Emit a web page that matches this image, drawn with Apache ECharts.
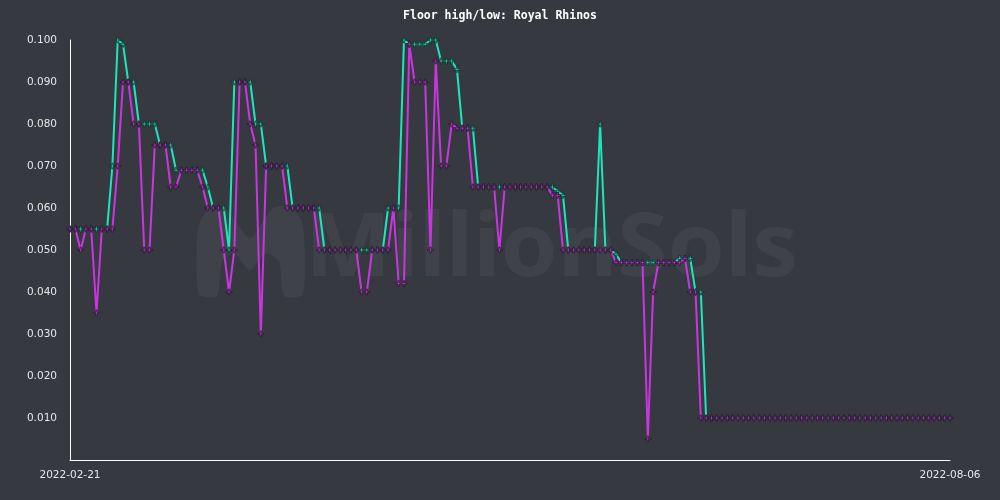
<!DOCTYPE html>
<html>
<head>
<meta charset="utf-8">
<script src="https://cdn.jsdelivr.net/npm/echarts@6/dist/echarts.min.js"></script>
<style>
html,body{margin:0;padding:0;background:#363a40;}
#c{width:1000px;height:500px;}
</style>
</head>
<body>
<div id="c"></div>
<script>
const startDate = '2022-02-21';
const dayCount = 167;
const titleText = 'Floor high/low: Royal Rhinos';
const highValues = [
0.055,0.055,0.055,0.055,0.055,0.055,0.055,0.055,0.070,0.100,
0.099,0.090,0.090,0.080,0.080,0.080,0.080,0.075,0.075,0.075,
0.069,0.069,0.069,0.069,0.069,0.069,0.065,0.060,0.060,0.060,
0.050,0.090,0.090,0.090,0.090,0.080,0.080,0.070,0.070,0.070,
0.070,0.070,0.060,0.060,0.060,0.060,0.060,0.060,0.050,0.050,
0.050,0.050,0.050,0.050,0.050,0.050,0.050,0.050,0.050,0.050,
0.060,0.060,0.060,0.100,0.099,0.099,0.099,0.099,0.100,0.100,
0.095,0.095,0.095,0.093,0.079,0.079,0.079,0.065,0.065,0.065,
0.065,0.065,0.065,0.065,0.065,0.065,0.065,0.065,0.065,0.065,
0.065,0.065,0.064,0.063,0.050,0.050,0.050,0.050,0.050,0.050,
0.080,0.050,0.050,0.049,0.047,0.047,0.047,0.047,0.047,0.047,
0.047,0.047,0.047,0.047,0.047,0.048,0.048,0.048,0.040,0.040,
0.010,0.010,0.010,0.010,0.010,0.010,0.010,0.010,0.010,0.010,
0.010,0.010,0.010,0.010,0.010,0.010,0.010,0.010,0.010,0.010,
0.010,0.010,0.010,0.010,0.010,0.010,0.010,0.010,0.010,0.010,
0.010,0.010,0.010,0.010,0.010,0.010,0.010,0.010,0.010,0.010,
0.010,0.010,0.010,0.010,0.010,0.010,0.010
];
const lowValues = [
0.055,0.055,0.050,0.055,0.055,0.035,0.055,0.055,0.055,0.070,
0.090,0.090,0.080,0.080,0.050,0.050,0.075,0.075,0.075,0.065,
0.065,0.069,0.069,0.069,0.069,0.065,0.060,0.060,0.060,0.050,
0.040,0.050,0.090,0.090,0.080,0.075,0.030,0.070,0.070,0.070,
0.070,0.060,0.060,0.060,0.060,0.060,0.060,0.050,0.050,0.050,
0.050,0.050,0.050,0.050,0.050,0.040,0.040,0.050,0.050,0.050,
0.050,0.060,0.042,0.042,0.099,0.090,0.090,0.090,0.050,0.095,
0.070,0.070,0.080,0.079,0.079,0.079,0.065,0.065,0.065,0.065,
0.065,0.050,0.065,0.065,0.065,0.065,0.065,0.065,0.065,0.065,
0.065,0.063,0.063,0.050,0.050,0.050,0.050,0.050,0.050,0.050,
0.050,0.050,0.050,0.047,0.047,0.047,0.047,0.047,0.047,0.005,
0.040,0.047,0.047,0.047,0.047,0.047,0.048,0.040,0.040,0.010,
0.010,0.010,0.010,0.010,0.010,0.010,0.010,0.010,0.010,0.010,
0.010,0.010,0.010,0.010,0.010,0.010,0.010,0.010,0.010,0.010,
0.010,0.010,0.010,0.010,0.010,0.010,0.010,0.010,0.010,0.010,
0.010,0.010,0.010,0.010,0.010,0.010,0.010,0.010,0.010,0.010,
0.010,0.010,0.010,0.010,0.010,0.010,0.010
];
const yTicks = [0, 0.01, 0.02, 0.03, 0.04, 0.05, 0.06, 0.07, 0.08, 0.09, 0.1];

function pad(n){return n<10?'0'+n:''+n;}
const dates = [];
(function(){
  const d0 = new Date(startDate + 'T00:00:00Z');
  for (let i = 0; i < dayCount; i++) {
    const d = new Date(d0.getTime() + i*86400000);
    dates.push(d.getUTCFullYear()+'-'+pad(d.getUTCMonth()+1)+'-'+pad(d.getUTCDate()));
  }
})();

const chart = echarts.init(document.getElementById('c'), null, {renderer:'canvas'});
const markerPath = 'path://M2,0L3,0L3,2L5,2L5,3L3,3L3,5L2,5L2,3L0,3L0,2L2,2Z';
chart.setOption({
  backgroundColor: '#363a40',
  animation: false,
  title: {
    text: titleText, left: 'center', top: 5,
    textStyle: {color:'#ffffff', fontFamily:'DejaVu Sans Mono', fontWeight:'bold', fontSize:11.5}
  },
  graphic: [
    {
      type: 'polygon', z: -10, silent: true,
      shape: {smooth: 0.25, points: [[199,294],[198,228],[208,210],[226,209],[250,238],[273,208],[292,208],[303,226],[303,294],[284,296],[279,262],[266,253],[250,270],[234,253],[222,262],[217,296]]},
      style: {fill:'#3f4349'}
    },
    {
      type: 'text', z: -10, silent: true, x: 305, y: 207, scaleX: 1.04,
      style: {text:'MillionSols', fill:'#3f4349', font:'bold 88px "Noto Sans"'}
    }
  ],
  grid: {left:70, right:50, top:40, bottom:40, containLabel:false},
  xAxis: {
    type:'category', data: dates, boundaryGap:false,
    axisLine:{lineStyle:{color:'#ffffff', width:1}},
    axisTick:{show:false},
    axisLabel:{
      color:'#e6e6e6', fontFamily:'DejaVu Sans', fontSize:10.5, margin:10,
      interval: function(i){ return i === 0 || i === dayCount-1; },
      showMinLabel:true, showMaxLabel:true
    },
    splitLine:{show:false}
  },
  yAxis: {
    type:'value', min:0, max:0.1, interval:0.01,
    axisLine:{show:true, lineStyle:{color:'#ffffff', width:1}},
    axisTick:{show:false},
    splitLine:{show:false},
    axisLabel:{
      color:'#e6e6e6', fontFamily:'DejaVu Sans', fontSize:10.5, margin:13,
      formatter: function(v){ return v === yTicks[0] ? '' : v.toFixed(3); }
    }
  },
  series: [
    {
      name:'High', type:'line', data: highValues,
      symbol: markerPath, symbolSize:6, showAllSymbol:true,
      lineStyle:{color:'#1de6bd', width:2},
      itemStyle:{color:'#1de6bd', borderColor:'#111111', borderWidth:0.6}
    },
    {
      name:'Low', type:'line', data: lowValues,
      symbol: markerPath, symbolSize:6, showAllSymbol:true,
      lineStyle:{color:'#c936e0', width:2},
      itemStyle:{color:'#c936e0', borderColor:'#111111', borderWidth:0.6}
    }
  ]
});
</script>
</body>
</html>
